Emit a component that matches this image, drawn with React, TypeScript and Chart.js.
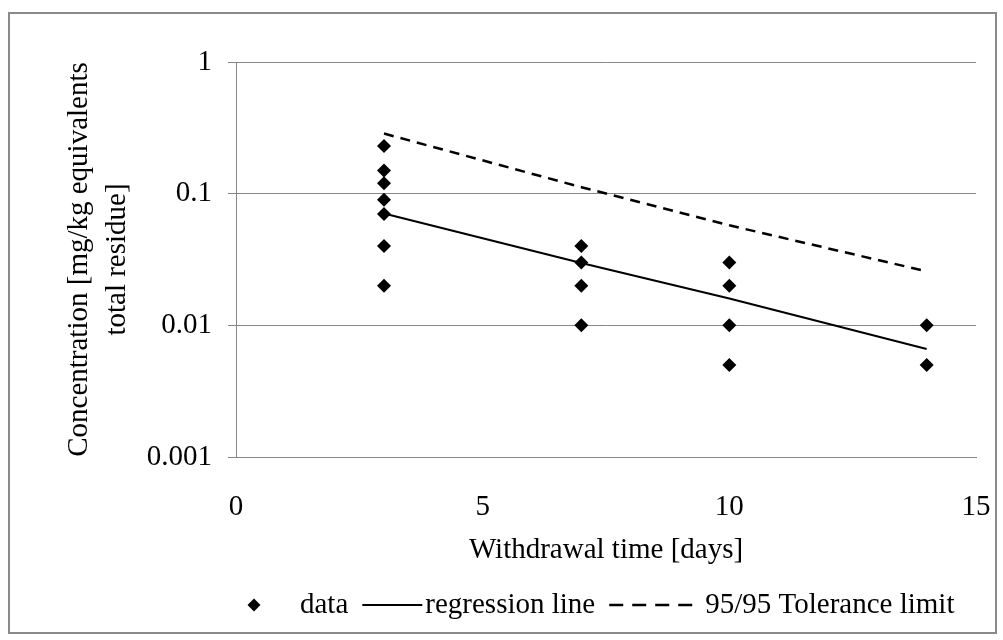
import React, { useEffect, useRef } from "react";
import { Chart, registerables } from "chart.js";

Chart.register(...registerables);

// ---- data ----
const dataDays = [3, 3, 3, 3, 3, 3, 3, 7, 7, 7, 7, 10, 10, 10, 10, 14, 14];
const dataConc = [0.23, 0.15, 0.12, 0.09, 0.07, 0.04, 0.02, 0.04, 0.03, 0.02, 0.01, 0.03, 0.02, 0.01, 0.005, 0.01, 0.005];
const lineDays = [3, 7, 10, 14];
const regressionConc = [0.0706, 0.0297, 0.016, 0.0066];
const toleranceConc = [0.286, 0.112, 0.0575, 0.0257];
const xTicks = [0, 5, 10, 15];
const yTicks = [0.001, 0.01, 0.1, 1];
const seriesLabels = ["data", "regression line", "95/95 Tolerance limit"];
const xTitle = "Withdrawal time [days]";
const yTitle = ["Concentration [mg/kg equivalents", "total residue]"];

const FONT = "'Liberation Serif', 'Times New Roman', serif";
const FS = 29;
const GRID = "#878787";

const frame = {
  id: "frame",
  beforeDraw(chart: any) {
    const ctx = chart.ctx;
    ctx.save();
    ctx.fillStyle = "#ffffff";
    ctx.fillRect(0, 0, chart.width, chart.height);
    ctx.strokeStyle = "#8a8a8a";
    ctx.lineWidth = 2;
    ctx.strokeRect(9, 13, 987, 620);
    ctx.restore();
  },
};

const legendPlugin = {
  id: "customLegend",
  afterDraw(chart: any) {
    const ctx = chart.ctx;
    const ds = chart.data.datasets;
    const y = 605;
    ctx.save();
    ctx.font = `${FS}px ${FONT}`;
    ctx.fillStyle = "#000";
    ctx.textBaseline = "middle";
    let x = 254;
    ctx.beginPath();
    const r = 6.5;
    ctx.moveTo(x, y - r);
    ctx.lineTo(x + r, y);
    ctx.lineTo(x, y + r);
    ctx.lineTo(x - r, y);
    ctx.closePath();
    ctx.fill();
    x = 300;
    ctx.fillText(ds[0].label, x, y);
    x += ctx.measureText(ds[0].label).width + 14;
    ctx.strokeStyle = "#000";
    ctx.lineWidth = 2;
    ctx.beginPath();
    ctx.moveTo(x, y);
    ctx.lineTo(x + 60, y);
    ctx.stroke();
    x += 63;
    ctx.fillText(ds[1].label, x, y);
    x += ctx.measureText(ds[1].label).width + 14;
    ctx.setLineDash([14, 9]);
    ctx.lineWidth = 2.5;
    ctx.beginPath();
    ctx.moveTo(x, y);
    ctx.lineTo(x + 83, y);
    ctx.stroke();
    ctx.setLineDash([]);
    x += 96;
    ctx.fillText(ds[2].label, x, y);
    ctx.restore();
  },
};

export default function App() {
  const ref = useRef<HTMLCanvasElement>(null);
  useEffect(() => {
    document.body.style.margin = "0";
    const canvas = ref.current!;
    const chart = new Chart(canvas, {
      type: "scatter",
      data: {
        datasets: [
          {
            label: seriesLabels[0],
            data: dataDays.map((d, i) => ({ x: d, y: dataConc[i] })),
            pointStyle: "rectRot",
            pointRadius: 7,
            backgroundColor: "#000",
            borderColor: "#000",
            borderWidth: 0,
            showLine: false,
            order: 0,
          },
          {
            label: seriesLabels[1],
            data: lineDays.map((d, i) => ({ x: d, y: regressionConc[i] })),
            showLine: true,
            borderColor: "#000",
            borderWidth: 2,
            pointRadius: 0,
            order: 1,
          },
          {
            label: seriesLabels[2],
            data: lineDays.map((d, i) => ({ x: d, y: toleranceConc[i] })),
            showLine: true,
            borderColor: "#000",
            borderWidth: 2.5,
            borderDash: [10, 7],
            pointRadius: 0,
            order: 2,
          },
        ],
      },
      options: {
        animation: false,
        responsive: false,
        devicePixelRatio: 1,
        layout: { padding: { left: 0, right: 27, top: 62, bottom: 0 } },
        plugins: {
          legend: { display: false },
          tooltip: { enabled: false },
        },
        scales: {
          x: {
            type: "linear",
            min: 0,
            max: 15,
            afterBuildTicks: (s: any) => {
              s.ticks = xTicks.map((v) => ({ value: v }));
            },
            afterFit: (s: any) => {
              s.height = 183;
              s.paddingLeft = 0;
              s.paddingRight = 0;
            },
            grid: { display: false },
            border: { display: true, color: GRID, width: 1 },
            ticks: {
              color: "#000",
              font: { family: FONT, size: FS },
              padding: 25,
              maxRotation: 0,
            },
            title: {
              display: true,
              text: xTitle,
              color: "#000",
              font: { family: FONT, size: FS },
              padding: { top: 0, bottom: 72 },
            },
          },
          y: {
            type: "logarithmic",
            min: 0.001,
            max: 1,
            afterBuildTicks: (s: any) => {
              s.ticks = yTicks.map((v) => ({ value: v }));
            },
            afterFit: (s: any) => {
              s.width = 236;
              s.paddingTop = 0;
              s.paddingBottom = 0;
            },
            grid: { color: GRID, lineWidth: 1, drawTicks: true, tickLength: 8 },
            border: { display: true, color: GRID, width: 1 },
            ticks: {
              color: "#000",
              font: { family: FONT, size: FS },
              padding: 16,
              callback: (v: any) => String(Number(v)),
            },
            title: {
              display: true,
              text: yTitle,
              color: "#000",
              font: { family: FONT, size: FS, lineHeight: 1.3 },
              padding: { top: 61, bottom: 0 },
            },
          },
        },
      },
      plugins: [frame, legendPlugin],
    });
    return () => chart.destroy();
  }, []);
  return (
    <div style={{ width: 1003, height: 640 }}>
      <canvas ref={ref} width={1003} height={640} style={{ display: "block" }} />
    </div>
  );
}
